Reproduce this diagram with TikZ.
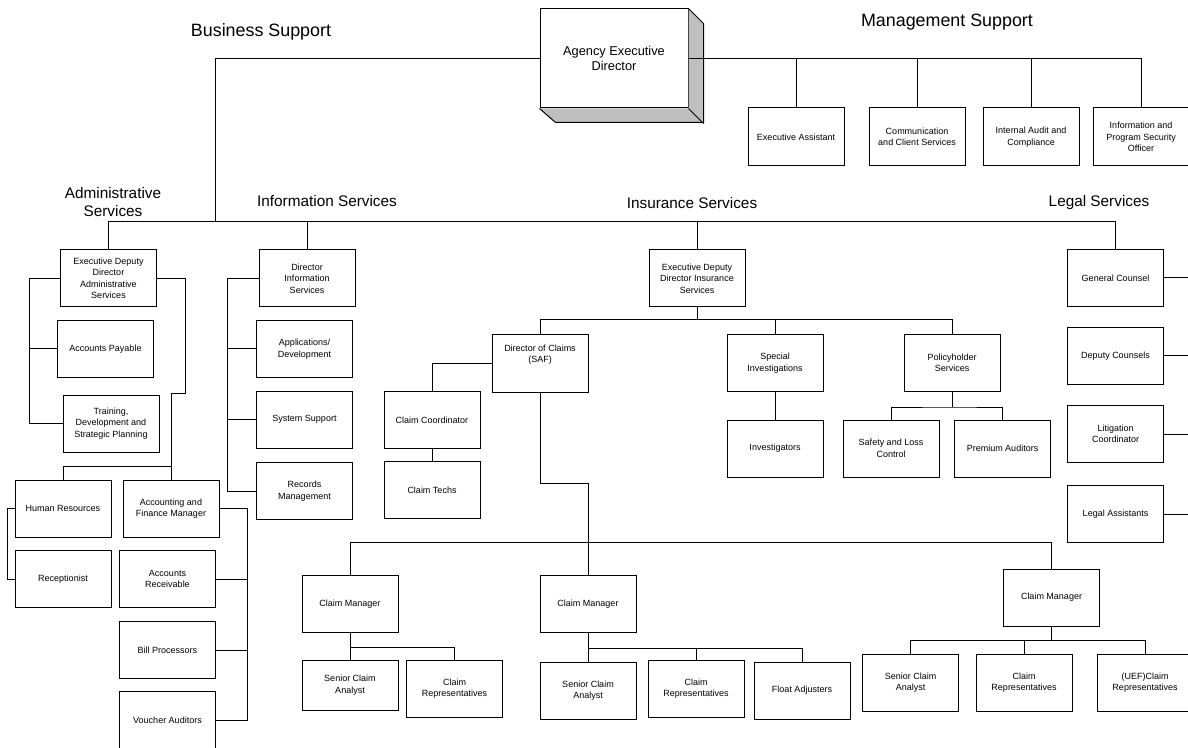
\documentclass[tikz,border=0pt]{standalone}
\usepackage{fontspec}
\setmainfont{Liberation Sans}
\begin{document}
\begin{tikzpicture}[x=0.75pt,y=-0.75pt,line width=0.75pt,
  box/.style={draw,line width=0.75pt,minimum width=72pt,minimum height=42.75pt,inner sep=1pt,align=center,font=\fontsize{6.75}{8.6}\selectfont},
  title/.style={align=center,font=\fontsize{11.5}{13.5}\selectfont},
  bigtitle/.style={align=center,font=\fontsize{13.4}{15}\selectfont},
  link/.style={draw,line width=0.75pt}]
\useasboundingbox (0,0) rectangle (1188,748);
\clip (0,0) rectangle (1188,748);
% titles
\node[bigtitle] (tbs) at (261,32) {Business Support};
\node[bigtitle] (tms) at (947,22) {Management Support};
\node[title] (tas) at (113,202) {Administrative\\Services};
\node[title] (tis) at (327,201) {Information Services};
\node[title] (tins) at (692,203) {Insurance Services};
\node[title] (tls) at (1099,203) {Legal Services};
% top box
\node[draw,fill=white,minimum width=111pt,minimum height=74.25pt,inner sep=0pt,align=center,font=\fontsize{9.6}{11.25}\selectfont] (aed) at (614,58.5) {Agency Executive\\Director};
\fill[black!25] (aed.north east) -- ++(15,15) -- ++(0,99) -- ++(-148,0) -- (aed.south west) -- (aed.south east) -- cycle;
\draw (aed.north east) -- ++(15,15) -- ++(0,99) -- ++(-148,0) -- (aed.south west);
\draw (aed.south east) -- ++(15,15);
% management support
\node[box,minimum height=43.5pt] (ea) at (796,137) {Executive Assistant};
\node[box,minimum height=43.5pt] (cc) at (917,137) {Communication\\and Client Services};
\node[box,minimum height=43.5pt] (ia) at (1031,137) {Internal Audit and\\Compliance};
\node[box,minimum height=43.5pt] (ip) at (1141,137) {Information and\\Program Security\\Officer};
% administrative
\node[box] (ads) at (108.5,278.5) {Executive Deputy\\Director\\Administrative\\Services};
\node[box] (ap) at (105.5,349) {Accounts Payable};
\node[box] (tr) at (111,423.5) {Training,\\Development and\\Strategic Planning};
\node[box] (hr) at (63,508.5) {Human Resources};
\node[box] (afm) at (171,508.5) {Accounting and\\Finance Manager};
\node[box] (rc) at (63,579) {Receptionist};
\node[box] (ar) at (167.5,579) {Accounts\\Receivable};
\node[box] (bp) at (167.5,650) {Bill Processors};
\node[box] (va) at (167.5,720) {Voucher Auditors};
% information
\node[box] (dis) at (307,278.5) {Director\\Information\\Services};
\node[box] (ad) at (304.5,349) {Applications/\\Development};
\node[box] (ss) at (304.5,419.5) {System Support};
\node[box] (rm) at (304.5,491) {Records\\Management};
% insurance
\node[box] (edi) at (697,278.5) {Executive Deputy\\Director Insurance\\Services};
\node[box] (dc) at (540,363.5) {Director of Claims\\(SAF)\\[6pt]};
\node[box] (clc) at (432,420) {Claim Coordinator};
\node[box] (ct) at (432,490) {Claim Techs};
\node[box] (si) at (775,363) {Special\\Investigations};
\node[box] (ps) at (952,363) {Policyholder\\Services};
\node[box] (inv) at (775,448.5) {Investigators};
\node[box] (sl) at (891,448.5) {Safety and Loss\\Control};
\node[box] (pa) at (1002.5,448.5) {Premium Auditors};
\node[box] (cm1) at (350,604) {Claim Manager};
\node[box] (cm2) at (588,604) {Claim Manager};
\node[box] (cm3) at (1051.5,597.5) {Claim Manager};
\node[box,minimum height=37.5pt] (sca1) at (350,685) {Senior Claim\\Analyst};
\node[box] (cr1) at (454.5,688.5) {Claim\\Representatives};
\node[box] (sca2) at (588,690.5) {Senior Claim\\Analyst};
\node[box] (cr2) at (696,688.5) {Claim\\Representatives};
\node[box] (fa) at (802,690.5) {Float Adjusters};
\node[box] (sca3) at (910.5,682.5) {Senior Claim\\Analyst};
\node[box] (cr3) at (1024,682.5) {Claim\\Representatives};
\node[box] (uef) at (1145,682.5) {(UEF)Claim\\Representatives};
% legal
\node[box] (gc) at (1115.5,278) {General Counsel};
\node[box] (dco) at (1115.5,356) {Deputy Counsels};
\node[box] (lc) at (1115.5,434) {Litigation\\Coordinator};
\node[box] (la) at (1115.5,514) {Legal Assistants};
% junction coordinates
\coordinate (bus) at (0,222);
\coordinate (bsj) at (215,222);
\coordinate (insj) at (697,320);
\coordinate (dj) at (588,483);
\coordinate (cbus) at (0,542);
\coordinate (aj1) at (185,393);
\coordinate (aj2) at (171,466);
\coordinate (redge) at (1200,0);
% connectors top
\draw[link] (aed.west) -| (bsj);
\draw[link] (aed.east) -| (ip.north);
\draw[link] (ea.north) -- (ea.north |- aed.east);
\draw[link] (cc.north) -- (cc.north |- aed.east);
\draw[link] (ia.north) -- (ia.north |- aed.east);
% main bus
\draw[link] (ads.north) -- (ads.north |- bus) -| (gc.north);
\draw[link] (dis.north) -- (dis.north |- bus);
\draw[link] (edi.north) -- (edi.north |- bus);
% admin
\draw[link] (ads.west) -- ++(-31,0) coordinate (al) |- (tr.west);
\draw[link] (ap.west) -- (ap.west -| al);
\draw[link] (ads.east) -| (aj1) -| (afm.north);
\draw[link] (hr.north) |- (aj2);
\draw[link] (hr.west) -- ++(-7,0) |- (rc.west);
\draw[link] (afm.east) -- ++(28,0) coordinate (fj) |- (va.east);
\draw[link] (ar.east) -- (ar.east -| fj);
\draw[link] (bp.east) -- (bp.east -| fj);
% info
\draw[link] (dis.west) -- ++(-31,0) coordinate (ij) |- (rm.west);
\draw[link] (ad.west) -- (ad.west -| ij);
\draw[link] (ss.west) -- (ss.west -| ij);
% insurance
\draw[link] (edi.south) -- (insj);
\draw[link] (dc.north) -- (dc.north |- insj) -| (ps.north);
\draw[link] (si.north) -- (si.north |- insj);
\draw[link] (dc.west) -| (clc.north);
\draw[link] (clc.south) -- (ct.north);
\draw[link] (si.south) -- (inv.north);
\draw[link] (ps.south) -- ++(0,15) coordinate (pj);
\draw[link] (sl.north) |- (pj) -| (pa.north);
\draw[link] (dc.south) |- (dj) -- (cm2.north);
\draw[link] (cm1.north) -- (cm1.north |- cbus) -| (cm3.north);
\draw[link] (cm1.south) -- ++(0,14) coordinate (c1j) -| (cr1.north);
\draw[link] (c1j) -- (sca1.north);
\draw[link] (cm2.south) -- ++(0,15) coordinate (c2j) -| (fa.north);
\draw[link] (c2j) -- (sca2.north);
\draw[link] (cr2.north) -- (cr2.north |- c2j);
\draw[link] (cm3.south) -- ++(0,14) coordinate (c3j);
\draw[link] (sca3.north) |- (c3j) -| (uef.north);
\draw[link] (cr3.north) -- (cr3.north |- c3j);
% legal
\draw[link] (gc.east) -- (gc.east -| redge);
\draw[link] (dco.east) -- (dco.east -| redge);
\draw[link] (lc.east) -- (lc.east -| redge);
\draw[link] (la.east) -- (la.east -| redge);
\end{tikzpicture}
\end{document}
